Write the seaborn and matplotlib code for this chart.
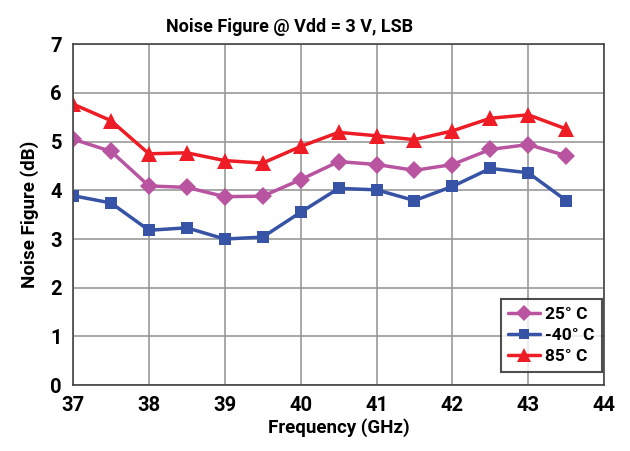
import matplotlib
matplotlib.use("Agg")
import matplotlib.pyplot as plt
import seaborn as sns
import pandas as pd

freq = [37, 37.5, 38, 38.5, 39, 39.5, 40, 40.5, 41, 41.5, 42, 42.5, 43, 43.5]
nf_25 = [5.05, 4.80, 4.09, 4.06, 3.87, 3.88, 4.22, 4.59, 4.53, 4.41, 4.53, 4.84, 4.94, 4.71]
nf_m40 = [3.89, 3.74, 3.18, 3.23, 3.00, 3.04, 3.55, 4.04, 4.01, 3.79, 4.08, 4.45, 4.36, 3.79]
nf_85 = [5.77, 5.43, 4.75, 4.77, 4.61, 4.56, 4.90, 5.19, 5.12, 5.04, 5.22, 5.48, 5.55, 5.26]
labels = ["25° C", "-40° C", "85° C"]
x_ticks = [37, 38, 39, 40, 41, 42, 43, 44]
y_ticks = [0, 1, 2, 3, 4, 5, 6, 7]

sns.set_theme(style="white")
plt.rcParams['font.family'] = ['Roboto', 'DejaVu Sans']
plt.rcParams['font.stretch'] = 'condensed'

df = pd.DataFrame({
    "freq": freq * 3,
    "nf": nf_25 + nf_m40 + nf_85,
    "temp": [labels[0]] * len(freq) + [labels[1]] * len(freq) + [labels[2]] * len(freq),
})

fig = plt.figure(figsize=(6.3, 4.51), dpi=100)
ax = fig.add_axes([0.116, 0.146, 0.843, 0.756])

palette = {labels[0]: "#B954A0", labels[1]: "#3653A5", labels[2]: "#EE1C25"}
markers = {labels[0]: "D", labels[1]: "s", labels[2]: "^"}
sizes = {labels[0]: 9, labels[1]: 8.5, labels[2]: 12}

for lab in labels:
    sub = df[df["temp"] == lab]
    sns.lineplot(data=sub, x="freq", y="nf", ax=ax, color=palette[lab],
                 marker=markers[lab], markersize=sizes[lab], markeredgewidth=0,
                 linewidth=2.5, label=lab)

ax.set_xlim(37, 44)
ax.set_ylim(0, 7)
ax.set_xticks(x_ticks)
ax.set_yticks(y_ticks)
ax.grid(True, color="#999999", linewidth=1.2)
ax.set_axisbelow(True)
for s in ax.spines.values():
    s.set_color("#444444")
    s.set_linewidth(1.2)
ax.tick_params(axis="both", which="both", direction="out", length=5, width=1.2,
               color="#555555", labelsize=14.5, pad=3, labelcolor="black")
for t in ax.get_xticklabels() + ax.get_yticklabels():
    t.set_fontweight("bold")
ax.set_xlabel("Frequency (GHz)", fontsize=13.5, fontweight="bold", labelpad=2, color="black")
ax.set_ylabel("Noise Figure (dB)", fontsize=13.5, fontweight="bold", labelpad=8, color="black")
ax.set_title("Noise Figure @ Vdd = 3 V, LSB", fontsize=13, fontweight="bold", pad=9,
             color="black", x=0.407)

leg = ax.legend(loc="lower right", bbox_to_anchor=(0.996, 0.038), borderaxespad=0,
                prop={"weight": "bold", "size": 12.5}, frameon=True, fancybox=False,
                handlelength=1.8, handletextpad=0.3, borderpad=0.45, labelspacing=0.35,
                markerscale=0.85)
for t in leg.get_texts():
    t.set_color("black")
leg.get_frame().set_edgecolor("#222222")
leg.get_frame().set_linewidth(1.5)

fig.savefig("out.png", dpi=100)
